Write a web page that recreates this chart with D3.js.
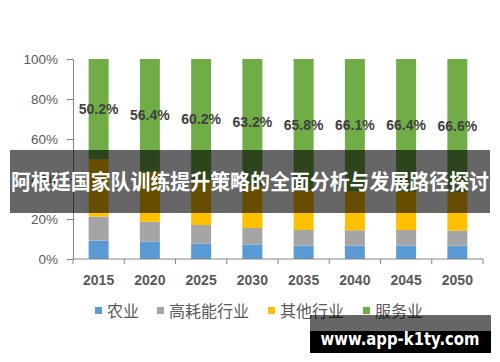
<!DOCTYPE html>
<html>
<head>
<meta charset="utf-8">
<script src="https://cdn.jsdelivr.net/npm/d3@7"></script>
<style>
  body { margin: 0; background: #fff; }
  svg { display: block; }
</style>
</head>
<body>
<script>
// Data (share of each sector, %).
var years = ["2015", "2020", "2025", "2030", "2035", "2040", "2045", "2050"];
var seriesNames = ["农业", "高耗能行业", "其他行业", "服务业"];
var agriculture = [9.2, 8.8, 7.8, 7.3, 6.7, 6.7, 6.7, 6.7];
var heavyIndustry = [12.0, 9.8, 9.2, 8.2, 7.8, 7.7, 7.8, 7.5];
var otherIndustry = [28.6, 25.0, 22.8, 21.3, 19.7, 19.5, 19.1, 19.2];
var services = [50.2, 56.4, 60.2, 63.2, 65.8, 66.1, 66.4, 66.6];
var yTicks = [0, 20, 40, 60, 80, 100];
var title = "阿根廷国家队训练提升策略的全面分析与发展路径探讨";
var watermark = "www.app-k1ty.com";

var colors = ["#5b9bd5", "#a5a5a5", "#ffc000", "#70ad47"];
var w = 500, h = 362;
var numFont = "'Liberation Sans', 'Noto Sans', sans-serif";
var cjkFont = "'Noto Sans CJK SC', sans-serif";

var svg = d3.select("body").append("svg")
    .attr("width", w)
    .attr("height", h);

// build rows for the stack
var rows = years.map(function(y, i) {
  return {year: y, "农业": agriculture[i], "高耗能行业": heavyIndustry[i],
          "其他行业": otherIndustry[i], "服务业": services[i]};
});
var stacked = d3.stack().keys(seriesNames)(rows);

var x = d3.scaleBand().domain(years).range([73, 483]).padding(0);
var y = d3.scaleLinear().domain([0, 100]).range([259, 59]);
var barW = 20;

// y axis
var yAxis = svg.append("g")
    .attr("transform", "translate(73,0)")
    .call(d3.axisLeft(y).tickValues(yTicks).tickSize(6).tickSizeOuter(0).tickFormat(function(d) { return d + "%"; }));
yAxis.select(".domain").attr("stroke", "#868686");
yAxis.selectAll(".tick line").attr("stroke", "#868686");
yAxis.selectAll("text")
    .attr("x", -15)
    .attr("fill", "#595959")
    .style("font-family", numFont)
    .style("font-size", "13.5px");

// bars
svg.append("g").selectAll("g")
  .data(stacked)
  .enter().append("g")
    .attr("fill", function(d, i) { return colors[i]; })
  .selectAll("rect")
  .data(function(d) { return d; })
  .enter().append("rect")
    .attr("x", function(d) { return x(d.data.year) + (x.bandwidth() - barW) / 2; })
    .attr("y", function(d) { return y(d[1]); })
    .attr("width", barW)
    .attr("height", function(d) { return y(d[0]) - y(d[1]); });

// x axis, ticks between the categories
var xAxis = svg.append("g").attr("transform", "translate(0,259)");
xAxis.append("line")
    .attr("x1", 73).attr("x2", 483)
    .attr("stroke", "#868686");
xAxis.selectAll(".sep")
  .data(years.concat(["end"]))
  .enter().append("line")
    .attr("x1", function(d, i) { return 73 + i * x.step(); })
    .attr("x2", function(d, i) { return 73 + i * x.step(); })
    .attr("y1", 0).attr("y2", 5)
    .attr("stroke", "#868686");
xAxis.selectAll("text")
  .data(years)
  .enter().append("text")
    .attr("x", function(d) { return x(d) + x.bandwidth() / 2; })
    .attr("y", 26)
    .attr("text-anchor", "middle")
    .attr("fill", "#595959")
    .style("font-family", numFont)
    .style("font-size", "14px")
    .style("font-weight", "bold")
    .text(function(d) { return d; });

// labels on the services segment
svg.append("g").selectAll("text")
  .data(stacked[3])
  .enter().append("text")
    .attr("x", function(d) { return x(d.data.year) + x.bandwidth() / 2; })
    .attr("y", function(d) { return (y(d[0]) + y(d[1])) / 2; })
    .attr("dy", "0.35em")
    .attr("text-anchor", "middle")
    .attr("fill", "#404040")
    .style("font-family", numFont)
    .style("font-size", "14px")
    .style("font-weight", "bold")
    .text(function(d) { return (d[1] - d[0]).toFixed(1) + "%"; });

// legend
var legendX = [95, 157, 268, 363];
var legend = svg.append("g").selectAll("g")
  .data(seriesNames)
  .enter().append("g")
    .attr("transform", function(d, i) { return "translate(" + legendX[i] + ",311)"; });
legend.append("rect")
    .attr("x", 0).attr("y", -4)
    .attr("width", 7).attr("height", 7)
    .attr("fill", function(d, i) { return colors[i]; });
legend.append("text")
    .attr("x", 12)
    .attr("dy", "0.35em")
    .attr("fill", "#595959")
    .style("font-family", cjkFont)
    .style("font-size", "16px")
    .text(function(d) { return d; });

// title banner over the chart
svg.append("rect")
    .attr("x", 10).attr("y", 150)
    .attr("width", 480).attr("height", 63)
    .attr("fill", "rgba(0,0,0,0.6)");
svg.append("text")
    .attr("x", 250).attr("y", 182)
    .attr("dy", "0.35em")
    .attr("text-anchor", "middle")
    .attr("fill", "#fff")
    .attr("textLength", 478)
    .attr("lengthAdjust", "spacingAndGlyphs")
    .style("font-family", cjkFont)
    .style("font-size", "21px")
    .style("font-weight", "bold")
    .text(title);

// watermark
svg.append("rect")
    .attr("x", 310).attr("y", 315)
    .attr("width", 181).attr("height", 16)
    .attr("fill", "rgba(0,0,0,0.6)");
svg.append("rect")
    .attr("x", 310).attr("y", 331)
    .attr("width", 181).attr("height", 22)
    .attr("fill", "#000");
svg.append("text")
    .attr("x", 400).attr("y", 339)
    .attr("dy", "0.35em")
    .attr("text-anchor", "middle")
    .attr("fill", "#fff")
    .attr("textLength", 159)
    .attr("lengthAdjust", "spacingAndGlyphs")
    .style("font-family", "'DejaVu Sans', sans-serif")
    .style("font-size", "17px")
    .style("font-weight", "bold")
    .text(watermark);
</script>
</body>
</html>
